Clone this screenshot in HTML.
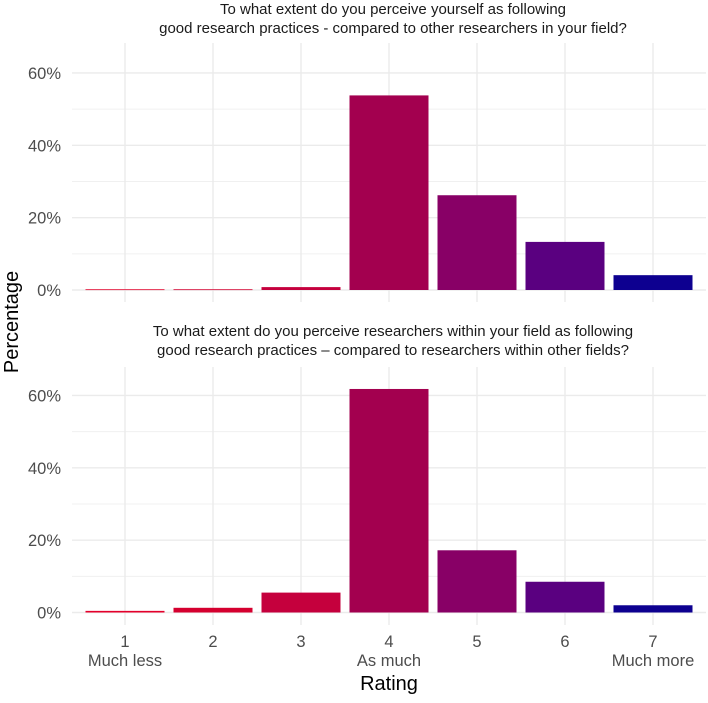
<!DOCTYPE html>
<html><head><meta charset="utf-8"><style>
body{margin:0;background:#fff;font-family:"Liberation Sans",sans-serif}
svg text{font-family:"Liberation Sans",sans-serif}
</style></head><body>
<svg id="c" width="708" height="698"></svg>
<script>
const categories=["1","2","3","4","5","6","7"];
const subLabels=["Much less","","","As much","","","Much more"];
const selfValues=[0.2,0.2,0.8,53.8,26.2,13.3,4.1];
const fieldValues=[0.45,1.3,5.5,61.8,17.2,8.5,2.0];
const colors=["#e4002b","#d5002f","#c5003d","#a3004f","#880066","#5a0080","#0d0090"];
const yTicks=[0,20,40,60];
const titles=[["To what extent do you perceive yourself as following","good research practices - compared to other researchers in your field?"],
["To what extent do you perceive researchers within your field as following","good research practices \u2013 compared to researchers within other fields?"]];
const svg=document.getElementById('c');const NS="http://www.w3.org/2000/svg";
function mk(t,a,p){const e=document.createElementNS(NS,t);for(const k in a)e.setAttribute(k,a[k]);(p||svg).appendChild(e);return e;}
const x0=72,x1=706;const step=88;
const xc=i=>125+step*i;
const panels=[{vals:selfValues,zero:290,top:43,bot:302,ty:14},{vals:fieldValues,zero:612.5,top:367,bot:625,ty:336}];
const pxPer=3.617;
panels.forEach((p,pi)=>{
 const g=mk('g',{});
 
 
 const y=v=>p.zero-v*pxPer;
 [10,30,50].forEach(v=>mk('line',{x1:x0,x2:x1,y1:y(v),y2:y(v),stroke:'#f0f0f0','stroke-width':1},g));
 yTicks.forEach(v=>{const l=mk('line',{x1:x0,x2:x1,y1:y(v),y2:y(v),stroke:'#ebebeb','stroke-width':1.4},g);
  
  const t=mk('text',{x:61,y:y(v)+6,'text-anchor':'end','font-size':16.5,fill:'#4d4d4d'},g);t.textContent=v+'%';
  });
 categories.forEach((c,i)=>mk('line',{x1:xc(i),x2:xc(i),y1:p.top,y2:p.bot,stroke:'#ebebeb','stroke-width':1.4},g));
 p.vals.forEach((v,i)=>{const b=mk('rect',{x:xc(i)-39.5,width:79,y:y(v),height:Math.max(v*pxPer,0.8),fill:colors[i]},g);
  });
 titles[pi].forEach((s,k)=>{const t=mk('text',{x:393,y:p.ty+k*19,'text-anchor':'middle','font-size':15,fill:'#1a1a1a'},g);t.textContent=s;
  });
});
categories.forEach((c,i)=>{const t=mk('text',{x:xc(i),y:647,'text-anchor':'middle','font-size':16.5,fill:'#4d4d4d'});t.textContent=c;
 
 if(subLabels[i]){const s=mk('text',{x:xc(i),y:666,'text-anchor':'middle','font-size':16.5,fill:'#4d4d4d'});s.textContent=subLabels[i];
 }});
const xt=mk('text',{x:389,y:690,'text-anchor':'middle','font-size':20,fill:'#000'});xt.textContent='Rating';

const yt=mk('text',{x:0,y:0,transform:'translate(18,322) rotate(-90)','text-anchor':'middle','font-size':20,fill:'#000'});yt.textContent='Percentage';

</script>
</body></html>
